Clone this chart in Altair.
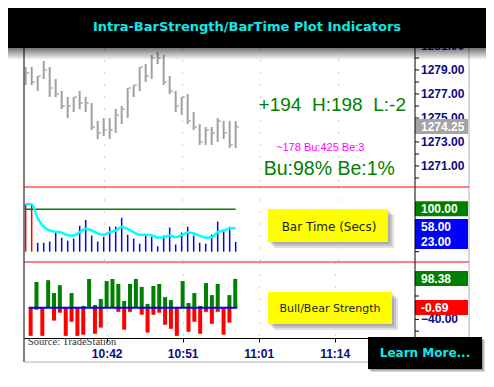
import altair as alt
import pandas as pd

# ---------------- data ----------------
bar_index = list(range(36))
price_high = [1279.25, 1279.25, 1278.5, 1279.75, 1279.25, 1278.25, 1277.25, 1276.75, 1276.75, 1277.25,
              1276.75, 1276.25, 1274.75, 1275.0, 1275.0, 1275.75, 1276.0, 1277.5, 1277.75, 1279.25,
              1279.5, 1280.25, 1280.5, 1280.25, 1278.5, 1277.25, 1276.75, 1277.0, 1275.5, 1274.5,
              1274.25, 1274.25, 1275.0, 1274.75, 1274.75, 1274.75]
price_low = [1277.75, 1277.75, 1277.25, 1278.25, 1276.75, 1276.75, 1275.75, 1275.0, 1275.5, 1275.75,
             1275.5, 1274.0, 1273.25, 1273.5, 1273.25, 1273.75, 1274.5, 1275.0, 1276.75, 1277.25,
             1278.0, 1278.25, 1279.5, 1277.75, 1277.0, 1275.5, 1275.25, 1274.5, 1274.0, 1272.75,
             1272.75, 1272.75, 1273.0, 1273.25, 1272.5, 1272.5]
price_close = [1278.75, 1278.0, 1278.5, 1279.0, 1277.5, 1277.0, 1276.0, 1276.0, 1276.75, 1276.25,
               1276.25, 1274.25, 1273.75, 1274.0, 1274.0, 1275.25, 1275.75, 1277.5, 1277.75, 1279.25,
               1278.5, 1280.0, 1280.0, 1278.0, 1277.25, 1276.0, 1276.75, 1274.75, 1274.25, 1273.0,
               1274.0, 1273.75, 1274.75, 1273.75, 1272.75, 1274.25]
bar_time = [112, 112, 21, 21, 24, 45, 33, 26, 31, 61, 75, 38, 24, 35, 59, 59, 80, 40, 31, 19,
            38, 35, 13, 38, 57, 17, 45, 59, 38, 21, 19, 40, 71, 52, 59, 23]
bar_time_avg = [112, 112, 79, 59, 50, 47, 45, 39, 38, 46, 54, 50, 43, 40, 46, 50, 58, 54, 46, 40,
                40, 39, 33, 34, 38, 34, 39, 45, 43, 38, 33, 34, 46, 50, 55, 56]
bull_strength = [0, 88, 0, 94, 50, 77, 0, 50, 0, 6, 98, 9, 30, 91, 98, 81, 23, 81, 98, 71,
                 13, 74, 81, 36, 26, 0, 91, 16, 50, 6, 84, 43, 81, 0, 43, 98.38]
bear_strength = [-96, -7, -96, 0, -44, -17, -96, -48, -96, -92, 0, -89, -68, 0, 0, -14, -75, -14, 0, -24,
                 -85, -24, -17, -58, -72, -96, 0, -82, -48, -89, -14, -55, -14, -92, -51, -0.69]

time_tick_index = [13, 26, 39, 52]
time_tick_labels = ["10:42", "10:51", "11:01", "11:14"]
price_ticks = list(range(1270, 1282))
bt_ticks = [0, 50, 100]
st_ticks = [-80, -40, 0, 40, 80]

title_text = "Intra-BarStrength/BarTime Plot Indicators"
stat_texts = ["+194\u00a0\u00a0H:198\u00a0\u00a0L:-2", "~178 Bu:425 Be:3", "Bu:98% Be:1%"]
stat_x = [51.1, 49.1, 50.6]
stat_y = [1276.08, 1272.54, 1270.79]

last_price = 1274.25
bar_time_threshold = 100
bt_label_values = [100, 58, 23]
bt_label_texts = ["100.00", "58.00", "23.00"]
bt_label_colors = ["#008000", "#0000ff", "#0000ff"]
st_label_values = [98.38, -0.69]
st_label_texts = ["98.38", "-0.69"]
st_label_colors = ["#008000", "#ff0000"]

# ---------------- tables ----------------
df = pd.DataFrame({
    "i": bar_index, "high": price_high, "low": price_low, "close": price_close,
    "bt": bar_time, "avg": bar_time_avg, "bull": bull_strength, "bear": bear_strength,
})
span = pd.DataFrame({"a": [min(bar_index)], "b": [max(bar_index)],
                     "thr": [bar_time_threshold], "zero": [0]})
one = pd.DataFrame({"k": [0]})

W, H1, H2, H3 = 391, 139, 75, 76
RIGHT = 462
NAVY = "#0a0a84"
LAB_FONT = "Liberation Sans"

xscale = alt.Scale(domain=[-0.28, 64.89], nice=False, zero=False)
grid_axis = alt.Axis(values=time_tick_index, grid=True, gridColor="#a0a0a0", gridDash=[1, 11],
                     labels=False, ticks=False, domain=False, title="")
label_expr = "''"
for k, lab in reversed(list(zip(time_tick_index, time_tick_labels))):
    label_expr = f"datum.value == {k} ? '{lab}' : {label_expr}"
time_axis = alt.Axis(values=time_tick_index, labelExpr=label_expr, grid=True, gridColor="#a0a0a0",
                     gridDash=[1, 11], tickSize=4, tickColor="black", domainColor="black",
                     labelColor=NAVY, labelFont=LAB_FONT, labelFontWeight="bold", labelFontSize=12,
                     labelPadding=6, labelOverlap=False, title="")
x_plain = alt.X("i:Q", scale=xscale)


def Y(field, scale):
    return alt.Y(field, scale=scale, axis=None)


def rect(x1, x2, y1, y2, color, opacity=1.0):
    return alt.Chart(one).mark_rect(color=color, opacity=opacity).encode(
        x=alt.value(x1), x2=alt.value(x2), y=alt.value(y1), y2=alt.value(y2))


def hline(x1, x2, y, color, w=1.0):
    return alt.Chart(one).mark_rule(color=color, strokeWidth=w).encode(
        x=alt.value(x1), x2=alt.value(x2), y=alt.value(y))


def vline(x, y1, y2, color, w=1.0):
    return alt.Chart(one).mark_rule(color=color, strokeWidth=w).encode(
        x=alt.value(x), y=alt.value(y1), y2=alt.value(y2))


def shadow(x1, x2, y1, y2):
    return [rect(x1 + d, x2 + d, y1 + d, y2 + d, "black", 0.12) for d in (2, 4, 6)]


def note_box(x1, x2, y1, y2, text, size, xc, yc):
    box = rect(x1, x2, y1, y2, "#ffff00")
    txt = alt.Chart(pd.DataFrame({"t": [text]})).mark_text(
        font="DejaVu Sans", fontSize=size, color="#1a1a1a", align="center", baseline="middle"
    ).encode(x=alt.value(xc), y=alt.value(yc), text="t:N")
    return shadow(x1, x2, y1, y2) + [box, txt]


def right_axis(values, scale, label_test):
    """Right-hand value axis drawn from the tick list through the panel's y scale."""
    d = pd.DataFrame({"v": values})
    ticks = alt.Chart(d).mark_rule(color="black").encode(
        x=alt.value(W), x2=alt.value(W + 4), y=Y("v:Q", scale))
    layers = [ticks]
    if label_test:
        labels = alt.Chart(d).transform_filter(label_test).transform_calculate(
            t="format(datum.v, '.2f')"
        ).mark_text(align="left", baseline="middle", font=LAB_FONT, fontWeight="bold",
                    fontSize=12, color=NAVY).encode(x=alt.value(W + 6), y=Y("v:Q", scale), text="t:N")
        layers.append(labels)
    return layers


def value_boxes(values, texts, colors, yscale):
    d = pd.DataFrame({"v": values, "t": texts, "c": colors})
    box = alt.Chart(d).mark_rect(yOffset=-8, y2Offset=7).encode(
        x=alt.value(W), x2=alt.value(W + 53), y=Y("v:Q", yscale), y2="v:Q",
        color=alt.Color("c:N", scale=None))
    txt = alt.Chart(d).mark_text(align="left", baseline="middle", font=LAB_FONT, fontWeight="bold",
                                 fontSize=12, color="white").encode(
        x=alt.value(W + 6), y=Y("v:Q", yscale), text="t:N")
    return [box, txt]


def frame_lines(h):
    return [vline(0, 0, h, "black"), vline(W, 0, h, "black"), vline(W + 54, 0, h, "#b0b0b0")]


# ---------------- panel 1 : price bars ----------------
price_scale = alt.Scale(domain=[1269.25, 1280.833], nice=False, zero=False)
hl = alt.Chart(df).mark_rule(color="#a0a0a0", strokeWidth=2).encode(
    x=alt.X("i:Q", scale=xscale, axis=grid_axis), y=Y("low:Q", price_scale), y2="high:Q")
cl = alt.Chart(df).mark_rule(color="#a0a0a0", strokeWidth=1.5, xOffset=1, x2Offset=3).encode(
    x=x_plain, x2="i:Q", y=Y("close:Q", price_scale))

stats = pd.DataFrame({"i": stat_x, "p": stat_y, "t": stat_texts})
stat_layers = []
for k, (size, col) in enumerate([(19, "#008000"), (11, "#ff00ff"), (19.5, "#008000")]):
    stat_layers.append(
        alt.Chart(stats.iloc[[k]]).mark_text(font=LAB_FONT, fontSize=size, color=col,
                                            align="center", baseline="middle").encode(
            x=x_plain, y=Y("p:Q", price_scale), text="t:N"))

fade = alt.Gradient(gradient="linear", x1=0, x2=0, y1=0, y2=1,
                    stops=[alt.GradientStop(color="rgba(0,0,0,0.55)", offset=0),
                           alt.GradientStop(color="rgba(0,0,0,0)", offset=1)])
title_shadow = alt.Chart(one).mark_rect(fill=fade).encode(
    x=alt.value(-16), x2=alt.value(RIGHT), y=alt.value(0), y2=alt.value(12))
title_bar = rect(-16, RIGHT, -40, 0, "black")
title_txt = alt.Chart(pd.DataFrame({"t": [title_text]})).mark_text(
    font="DejaVu Sans", fontSize=13, fontWeight="bold", color="#10e8e8",
    align="center", baseline="middle").encode(x=alt.value(223), y=alt.value(-21), text="t:N")

p1 = alt.layer(
    hl, cl, *stat_layers,
    *right_axis(price_ticks, price_scale, "datum.v % 2 == 1"),
    *value_boxes([last_price], [f"{last_price:.2f}"], ["#a4a4a4"], price_scale),
    *frame_lines(H1),
    title_shadow, title_bar, title_txt,
).properties(width=W, height=H1)

# ---------------- panel 2 : bar time ----------------
bt_scale = alt.Scale(domain=[-24.3, 152.6], nice=False, zero=False)
bt_bars = alt.Chart(df).mark_rule(strokeWidth=1.5).encode(
    x=alt.X("i:Q", scale=xscale, axis=grid_axis), y=Y("bt:Q", bt_scale), y2=alt.datum(0),
    color=alt.condition(f"datum.bt > {bar_time_threshold}", alt.value("#ff0000"), alt.value("#0000ff")))
thr = alt.Chart(span).mark_rule(color="#008000", strokeWidth=1.5).encode(
    x=alt.X("a:Q", scale=xscale), x2="b:Q", y=Y("thr:Q", bt_scale))
avg_line = alt.Chart(df).mark_line(color="#00ffff", strokeWidth=2.5, interpolate="monotone").encode(
    x=x_plain, y=Y("avg:Q", bt_scale))

p2 = alt.layer(
    bt_bars, thr, avg_line,
    *note_box(244, 364, 22, 55, "Bar Time (Secs)", 12, 305, 40),
    *right_axis(bt_ticks, bt_scale, None),
    *value_boxes(bt_label_values, bt_label_texts, bt_label_colors, bt_scale),
    *frame_lines(H2),
    hline(0, W + 54, 0, "#ff0000"), hline(0, W + 54, H2, "#ff0000"),
).properties(width=W, height=H2)

# ---------------- panel 3 : bull / bear strength ----------------
st_scale = alt.Scale(domain=[-103.4, 156], nice=False, zero=False)
bull_bars = alt.Chart(df).mark_bar(size=4, color="#008000").encode(
    x=alt.X("i:Q", scale=xscale, axis=time_axis), y=Y("bull:Q", st_scale), y2=alt.datum(0))
bear_bars = alt.Chart(df).mark_bar(size=4, color="#ff0000").encode(
    x=x_plain, y=Y("bear:Q", st_scale), y2=alt.datum(0))
base_line = alt.Chart(span).mark_rule(color="#0000ff", strokeWidth=2, xOffset=-2, x2Offset=2).encode(
    x=alt.X("a:Q", scale=xscale), x2="b:Q", y=Y("zero:Q", st_scale))
source_txt = alt.Chart(pd.DataFrame({"t": ["Source: TradeStation"]})).mark_text(
    font="Liberation Serif", fontSize=10.5, color="#333333", align="left", baseline="middle"
).encode(x=alt.value(4), y=alt.value(80), text="t:N")
learn_txt = alt.Chart(pd.DataFrame({"t": ["Learn More..."]})).mark_text(
    font="DejaVu Sans", fontSize=12, fontWeight="bold", color="#10e8e8", align="center",
    baseline="middle").encode(x=alt.value(401), y=alt.value(91), text="t:N")

p3 = alt.layer(
    bull_bars, bear_bars, base_line,
    *note_box(244, 368, 30, 62, "Bull/Bear Strength", 11, 306, 47),
    *right_axis(st_ticks, st_scale, "datum.v == -40"),
    *value_boxes(st_label_values, st_label_texts, st_label_colors, st_scale),
    vline(0, 0, 100, "black"), vline(W, 0, H3, "black"), vline(W + 54, 0, 100, "#b0b0b0"),
    hline(0, W + 54, 100, "#b0b0b0"),
    source_txt,
    *[rect(344 + d, 458 + d, 75 + d, 107 + d, "black", 0.15) for d in (1, 2, 3)],
    rect(344, 458, 75, 107, "black"), learn_txt,
).properties(width=W, height=H3)

chart = alt.vconcat(p1, p2, p3, spacing=0, bounds="flush").properties(
    padding=0
).configure_view(strokeWidth=0)

chart.save("out.html", embed_options={"renderer": "svg", "actions": False})
